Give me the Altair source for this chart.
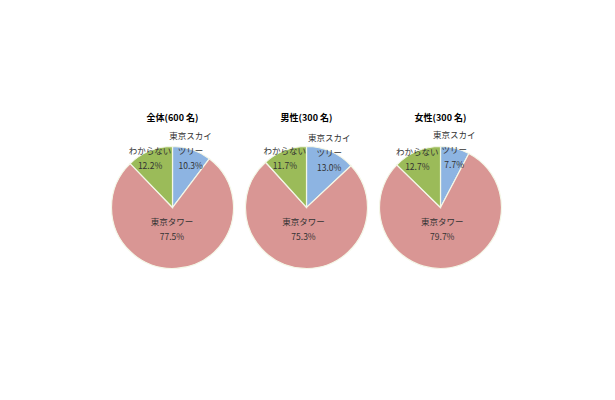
import altair as alt
import pandas as pd

groups = ["全体(600 名)", "男性(300 名)", "女性(300 名)"]
categories = ["東京スカイツリー", "東京タワー", "わからない"]
category_lines = [["東京スカイ", "ツリー"], ["東京タワー"], ["わからない"]]
values_all = [10.3, 77.5, 12.2]
values_male = [13.0, 75.3, 11.7]
values_female = [7.7, 79.7, 12.7]
colors = ["#8DB4E2", "#D99694", "#9BBB59"]
label_radius = [57, 24, 52]
label_dx = [0, -2, -3]
label_dy = [-17, -9, -8]

rows = []
for g, vals in zip(groups, [values_all, values_male, values_female]):
    for i, (c, lines, v) in enumerate(zip(categories, category_lines, vals)):
        rows.append({"group": g, "category": c, "order": i, "value": v,
                     "label": "\n".join(lines + [f"{v:.1f}%"])})
df = pd.DataFrame(rows)

FONT = "Noto Sans CJK JP"
theta_scale = alt.Scale(domain=[0, 1])

arcs = alt.Chart(df).mark_arc(outerRadius=61, stroke="#f4f7e8", strokeWidth=1.2).encode(
    theta=alt.Theta("value:Q", stack="normalize", scale=theta_scale),
    order=alt.Order("order:Q"),
    color=alt.Color("category:N", scale=alt.Scale(domain=categories, range=colors), legend=None),
)

text_base = alt.Chart(df).transform_window(
    cum="sum(value)", sort=[alt.SortField("order")], groupby=["group"], frame=[None, 0]
).transform_joinaggregate(
    total="sum(value)", groupby=["group"]
).transform_calculate(
    mid="(datum.cum - datum.value / 2) / datum.total"
)

text_layers = []
for c, r, dx, dy in zip(categories, label_radius, label_dx, label_dy):
    text_layers.append(
        text_base.transform_filter(alt.datum.category == c).mark_text(
            font=FONT, fontSize=8.5, lineBreak="\n", lineHeight=15, radius=r, dx=dx, dy=dy,
            color="#333333", align="center", baseline="middle"
        ).encode(
            theta=alt.Theta("mid:Q", stack=None, scale=theta_scale),
            text="label:N",
        )
    )

chart = alt.layer(arcs, *text_layers).properties(width=133, height=133).facet(
    column=alt.Column("group:N", sort=groups,
                      header=alt.Header(title=None, labelFont=FONT, labelFontSize=9,
                                        labelFontWeight="bold", labelColor="#000000",
                                        labelPadding=8)),
    spacing=1,
).properties(
    padding={"left": 98, "top": 106, "right": 5, "bottom": 5}
).configure_view(stroke=None).configure(background="white")

chart.save("out.html", embed_options={"renderer": "svg", "actions": False})
